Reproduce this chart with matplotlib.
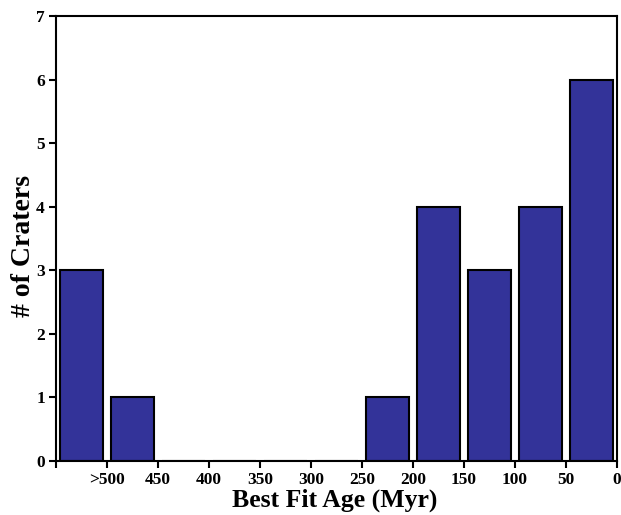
import matplotlib
matplotlib.use("Agg")
import matplotlib.pyplot as plt

bin_centers = [525, 475, 425, 375, 325, 275, 225, 175, 125, 75, 25]
counts = [3, 1, 0, 0, 0, 0, 1, 4, 3, 4, 6]
tick_positions = [550, 500, 450, 400, 350, 300, 250, 200, 150, 100, 50, 0]
tick_labels = ["", ">500", "450", "400", "350", "300", "250", "200", "150", "100", "50", "0"]

plt.rcParams['font.family'] = ['Liberation Serif', 'DejaVu Serif']
plt.rcParams['font.weight'] = 'bold'

fig = plt.figure(figsize=(6.21, 5.15), dpi=100)
ax = fig.add_axes([0.0902, 0.105, 0.903, 0.864])

ax.bar(bin_centers, counts, width=42, color='#333399', edgecolor='black', linewidth=1.5, zorder=2)

ax.set_xlim(550, 0)
ax.set_ylim(0, 7)
ax.set_xticks(tick_positions)
ax.set_xticklabels(tick_labels, fontsize=12.5, fontweight='bold')
ax.set_yticks(range(0, 8))
ax.set_yticklabels([str(i) for i in range(0, 8)], fontsize=12.5, fontweight='bold')
ax.tick_params(axis='both', direction='out', length=5, width=1.5)
ax.tick_params(axis='x', pad=3)
ax.tick_params(axis='y', pad=3)
for s in ax.spines.values():
    s.set_linewidth(1.5)

ax.set_xlabel("Best Fit Age (Myr)", fontsize=18.5, fontweight='bold')
ax.set_ylabel("# of Craters", fontsize=20, fontweight='bold')
ax.xaxis.set_label_coords(0.497, -0.089)
ax.yaxis.set_label_coords(-0.058, 0.483)
ax.xaxis.label.set_va('center')
ax.yaxis.label.set_va('center')

fig.savefig("out.png", dpi=100)
